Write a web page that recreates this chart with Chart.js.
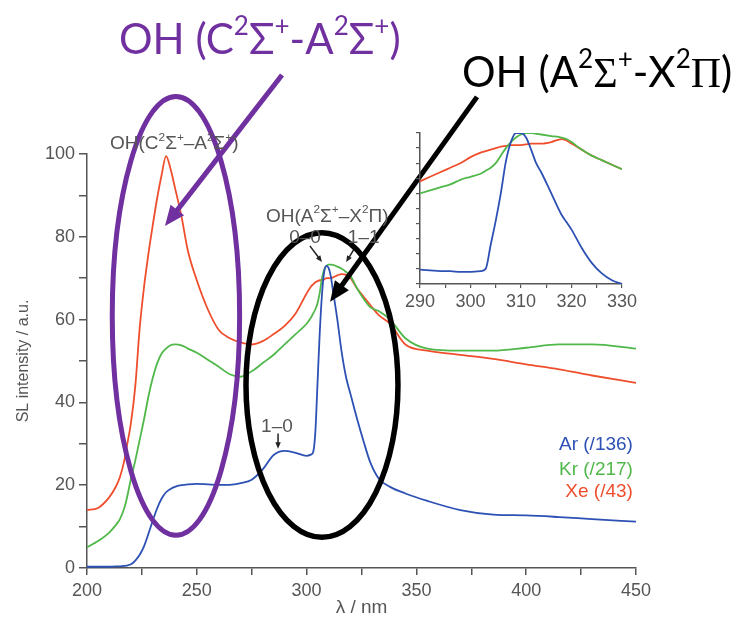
<!DOCTYPE html>
<html>
<head>
<meta charset="utf-8">
<script src="https://cdn.jsdelivr.net/npm/chart.js@4.4.0/dist/chart.umd.min.js"></script>
<style>
  html, body { margin: 0; padding: 0; background: #fff; }
  #wrap { position: relative; width: 744px; height: 627px; overflow: hidden; font-family: "Liberation Sans", Arial, sans-serif; }
  #main { position: absolute; left: 0; top: 0; }
  #inset { position: absolute; left: 395px; top: 125px; }
  .note { position: absolute; white-space: nowrap; line-height: 1; }
  .note sup { font-size: 0.62em; vertical-align: 0; position: relative; top: -0.72em; line-height: 0; }
  .big { font-family: Lato, "Open Sans", sans-serif; font-size: 42px; }
  .serif { font-family: "Liberation Serif", serif; }
  .small { font-size: 19px; color: #555; }
  .key { font-size: 19px; }
</style>
</head>
<body>
<div id="wrap">
  <canvas id="main" width="744" height="627"></canvas>
  <canvas id="inset" width="247" height="194"></canvas>
  <div class="note big" style="left:119px; top:17px; color:#7030a0">OH (C<sup>2</sup>Σ<sup>+</sup>-A<sup>2</sup>Σ<sup>+</sup>)</div>
  <div class="note big" style="left:462px; top:50px; color:#000">OH (A<sup>2</sup><span class="serif">Σ</span><sup>+</sup>-X<sup>2</sup><span class="serif">Π</span>)</div>
</div>
<script>
// Main spectrum (SL intensity, a.u.)
const wavelength = [200,205,210,213,215,217,218,220,222,224,226,228,230,232,234,236,238,240,243,246,
  250,255,260,265,270,275,280,285,290,295,300,302,303,304,305,306,307,308,309,310,
  311,312,314,316,318,320,323,326,329,333,338,345,355,370,385,400,415,430,450];

const arSL = [0.3,0.3,0.3,0.4,0.4,0.5,0.6,0.9,1.8,3.2,5.3,8.3,11.5,14.5,16.8,18.3,19.1,19.6,20,20.2,
  20.3,20.2,20.1,20.1,20.5,21.3,23.8,27.3,28.3,27.8,27.1,27.4,28,33,45,57,66,71.5,73,72.5,
  70.5,67,60,52,46,42,36,30.5,25.5,21.5,19.6,18,16.2,14,12.9,12.7,12.3,11.8,11.2];

const krSL = [5,6.5,8.5,10.3,11.8,14.5,16.5,21.5,26,31,36,41.5,46,49.5,51.8,53,53.8,54,53.8,53,
  52,50.3,48.6,46.8,46.2,47.5,49.5,51.5,54,56.5,59,60.5,61.5,62.5,64,66.5,70,72,73,73.3,
  73.3,73.2,72.8,72.3,71.5,70.5,67.5,65,63,62,60,55.5,53,52.5,52.5,53.2,54,54,53];

const xeSL = [14,14.5,17,19.5,22,26,29,35,44,58,68,76,83,89.5,95,99.5,96.5,92,85,76.5,
  69.5,62.5,57.5,55.5,54.5,54,54.8,56.5,58.5,61.5,66.3,68,68.5,69,69.3,69.5,69.5,69.7,70,70,
  70,70.2,70.7,71,70.8,70,67.5,65.5,63.5,61,59,54,52.5,51.5,50.5,49.2,48,46.5,44.7];

// Inset (normalised, 290-330 nm)
const insetWl = [290,292,294,296,298,300,302,303,304,305,306,307,308,309,310,311,312,313,314,316,318,319,320,322,324,326,328,330];
const insetAr = [0.095,0.09,0.085,0.085,0.08,0.08,0.085,0.1,0.26,0.42,0.6,0.81,0.94,1.0,1.0,0.97,0.89,0.8,0.74,0.6,0.46,0.41,0.36,0.24,0.14,0.07,0.025,0];
const insetKr = [0.6,0.62,0.64,0.66,0.69,0.71,0.73,0.75,0.77,0.8,0.85,0.9,0.94,0.97,0.99,1.0,1.0,0.995,0.99,0.98,0.97,0.96,0.94,0.89,0.85,0.82,0.79,0.76];
const insetXe = [0.68,0.71,0.74,0.77,0.8,0.84,0.87,0.88,0.89,0.9,0.91,0.915,0.92,0.92,0.92,0.925,0.93,0.93,0.93,0.94,0.96,0.95,0.93,0.89,0.85,0.82,0.79,0.76];

const seriesLabels = ['Ar (/136)', 'Kr (/217)', 'Xe (/43)'];

const BLUE = '#2d50b4';
const GREEN = '#50b84a';
const RED = '#ef4e2c';
const PURPLE = '#7030a0';
const AXIS = '#555';
const FONT = '"Liberation Sans", Arial, sans-serif';

Chart.defaults.font.family = FONT;

function toPoints(xs, ys) {
    return xs.map((x, i) => ({ x: x, y: ys[i] }));
}

function lineSet(label, xs, ys, color) {
    return {
        label: label,
        data: toPoints(xs, ys),
        borderColor: color,
        borderWidth: 1.8,
        pointRadius: 0,
        fill: false,
        cubicInterpolationMode: 'monotone'
    };
}

// annotation shapes, given in data units
const ellipses = [
    { nm: 240.5, val: 60.9, rNm: 29, rVal: 53, color: PURPLE, width: 5 },
    { nm: 307, val: 44.2, rNm: 34.6, rVal: 36.8, color: '#000', width: 5.5 }
];
const bigArrows = [
    { from: [288.8, 119.1], to: [235.5, 82.6], color: PURPLE, width: 5, head: 22 },
    { from: [377.6, 113.8], to: [310.7, 64.3], color: '#000', width: 5, head: 22 }
];
const smallArrows = [
    { from: [301.5, 77.8], to: [307, 73.9] },
    { from: [322.5, 77.8], to: [318, 73.9] },
    { from: [287, 32.5], to: [287, 28.8] }
];

function drawArrow(ctx, x1, y1, x2, y2, color, width, head) {
    const ang = Math.atan2(y2 - y1, x2 - x1);
    const bx = x2 - Math.cos(ang) * head * 0.8;
    const by = y2 - Math.sin(ang) * head * 0.8;
    ctx.strokeStyle = color;
    ctx.fillStyle = color;
    ctx.lineWidth = width;
    ctx.beginPath();
    ctx.moveTo(x1, y1);
    ctx.lineTo(bx, by);
    ctx.stroke();
    ctx.beginPath();
    ctx.moveTo(x2, y2);
    ctx.lineTo(x2 - head * Math.cos(ang - 0.4), y2 - head * Math.sin(ang - 0.4));
    ctx.lineTo(x2 - head * Math.cos(ang + 0.4), y2 - head * Math.sin(ang + 0.4));
    ctx.closePath();
    ctx.fill();
}

const overlayPlugin = {
    id: 'overlay',
    afterDatasetsDraw(chart) {
        const { ctx } = chart;
        const xs = chart.scales.x, ys = chart.scales.y;
        ctx.save();
        smallArrows.forEach(a => {
            drawArrow(ctx, xs.getPixelForValue(a.from[0]), ys.getPixelForValue(a.from[1]),
                xs.getPixelForValue(a.to[0]), ys.getPixelForValue(a.to[1]), '#222', 1.5, 7);
        });
        ellipses.forEach(e => {
            const cx = xs.getPixelForValue(e.nm), cy = ys.getPixelForValue(e.val);
            const rx = Math.abs(xs.getPixelForValue(e.nm + e.rNm) - cx);
            const ry = Math.abs(ys.getPixelForValue(e.val + e.rVal) - cy);
            ctx.beginPath();
            ctx.ellipse(cx, cy, rx, ry, 0, 0, Math.PI * 2);
            ctx.lineWidth = e.width;
            ctx.strokeStyle = e.color;
            ctx.stroke();
        });
        bigArrows.forEach(a => {
            drawArrow(ctx, xs.getPixelForValue(a.from[0]), ys.getPixelForValue(a.from[1]),
                xs.getPixelForValue(a.to[0]), ys.getPixelForValue(a.to[1]), a.color, a.width, a.head);
        });
        ctx.restore();
    }
};

const mainChart = new Chart(document.getElementById('main'), {
    type: 'line',
    data: {
        datasets: [
            lineSet(seriesLabels[0], wavelength, arSL, BLUE),
            lineSet(seriesLabels[1], wavelength, krSL, GREEN),
            lineSet(seriesLabels[2], wavelength, xeSL, RED)
        ]
    },
    options: {
        responsive: false,
        animation: false,
        layout: { padding: { left: 0, top: 154, right: 108, bottom: 0 } },
        plugins: { legend: { display: false }, tooltip: { enabled: false } },
        scales: {
            x: {
                type: 'linear', min: 200, max: 450,
                ticks: {
                    stepSize: 25, autoSkip: false, maxRotation: 0, padding: 5,
                    color: AXIS, font: { size: 18 },
                    callback: v => (v % 50 === 0 ? v : '')
                },
                grid: { drawOnChartArea: false, drawTicks: true, tickLength: 7, color: AXIS, lineWidth: 1.5 },
                border: { display: true, color: AXIS, width: 1.5 },
                title: { display: true, text: 'λ / nm', color: AXIS, font: { size: 19 }, padding: { top: 0, bottom: 8 } },
                afterFit(scale) { scale.height = 59; }
            },
            y: {
                min: 0, max: 100,
                ticks: {
                    stepSize: 10, autoSkip: false, padding: 4,
                    color: AXIS, font: { size: 18 },
                    callback: v => (v % 20 === 0 ? v : '')
                },
                grid: { drawOnChartArea: false, drawTicks: true, tickLength: 8, color: AXIS, lineWidth: 1.5 },
                border: { display: true, color: AXIS, width: 1.5 },
                title: { display: true, text: 'SL intensity / a.u.', color: AXIS, font: { size: 16 }, padding: { top: 14, bottom: 0 } },
                afterFit(scale) { scale.width = 87; }
            }
        }
    },
    plugins: [overlayPlugin]
});

const insetChart = new Chart(document.getElementById('inset'), {
    type: 'line',
    data: {
        datasets: [
            lineSet(seriesLabels[0], insetWl, insetAr, BLUE),
            lineSet(seriesLabels[1], insetWl, insetKr, GREEN),
            lineSet(seriesLabels[2], insetWl, insetXe, RED)
        ]
    },
    options: {
        responsive: false,
        animation: false,
        layout: { padding: { left: 0, top: 8, right: 20, bottom: 0 } },
        plugins: { legend: { display: false }, tooltip: { enabled: false } },
        scales: {
            x: {
                type: 'linear', min: 290, max: 330,
                ticks: {
                    stepSize: 5, autoSkip: false, maxRotation: 0, padding: 3,
                    color: AXIS, font: { size: 18 },
                    callback: v => (v % 10 === 0 ? v : '')
                },
                grid: { drawOnChartArea: false, drawTicks: true, tickLength: 4, color: AXIS, lineWidth: 1.2 },
                border: { display: true, color: AXIS, width: 1.5 },
                afterFit(scale) { scale.height = 35; }
            },
            y: {
                min: 0, max: 1,
                ticks: { stepSize: 0.1, autoSkip: false, padding: 0, callback: () => '' },
                grid: { drawOnChartArea: false, drawTicks: true, tickLength: 4, color: AXIS, lineWidth: 1.2 },
                border: { display: true, color: AXIS, width: 1.5 },
                afterFit(scale) { scale.width = 25; }
            }
        }
    }
});

// text notes placed in data units of the main chart
const chartNotes = [
    { html: 'OH(C<sup>2</sup>Σ<sup>+</sup>–A<sup>2</sup>Σ<sup>+</sup>)', nm: 210.5, val: 102.9, align: 'left', cls: 'small' },
    { html: 'OH(A<sup>2</sup>Σ<sup>+</sup>–X<sup>2</sup>Π)', nm: 281.5, val: 85.3, align: 'left', cls: 'small' },
    { html: '0–0', nm: 299.3, val: 80.2, align: 'center', cls: 'small' },
    { html: '1–1', nm: 326, val: 80.2, align: 'center', cls: 'small' },
    { html: '1–0', nm: 286.5, val: 34.5, align: 'center', cls: 'small' },
    { html: seriesLabels[0], nm: 448.6, val: 30.2, align: 'right', cls: 'key', color: BLUE },
    { html: seriesLabels[1], nm: 448.6, val: 24.2, align: 'right', cls: 'key', color: GREEN },
    { html: seriesLabels[2], nm: 448.6, val: 18.8, align: 'right', cls: 'key', color: RED }
];

const wrap = document.getElementById('wrap');
const shift = { left: '0%', center: '-50%', right: '-100%' };
chartNotes.forEach(n => {
    const el = document.createElement('div');
    el.className = 'note ' + n.cls;
    el.innerHTML = n.html;
    el.style.left = mainChart.scales.x.getPixelForValue(n.nm) + 'px';
    el.style.top = mainChart.scales.y.getPixelForValue(n.val) + 'px';
    el.style.transform = 'translate(' + shift[n.align] + ', -50%)';
    if (n.color) el.style.color = n.color;
    wrap.appendChild(el);
});
</script>
</body>
</html>
